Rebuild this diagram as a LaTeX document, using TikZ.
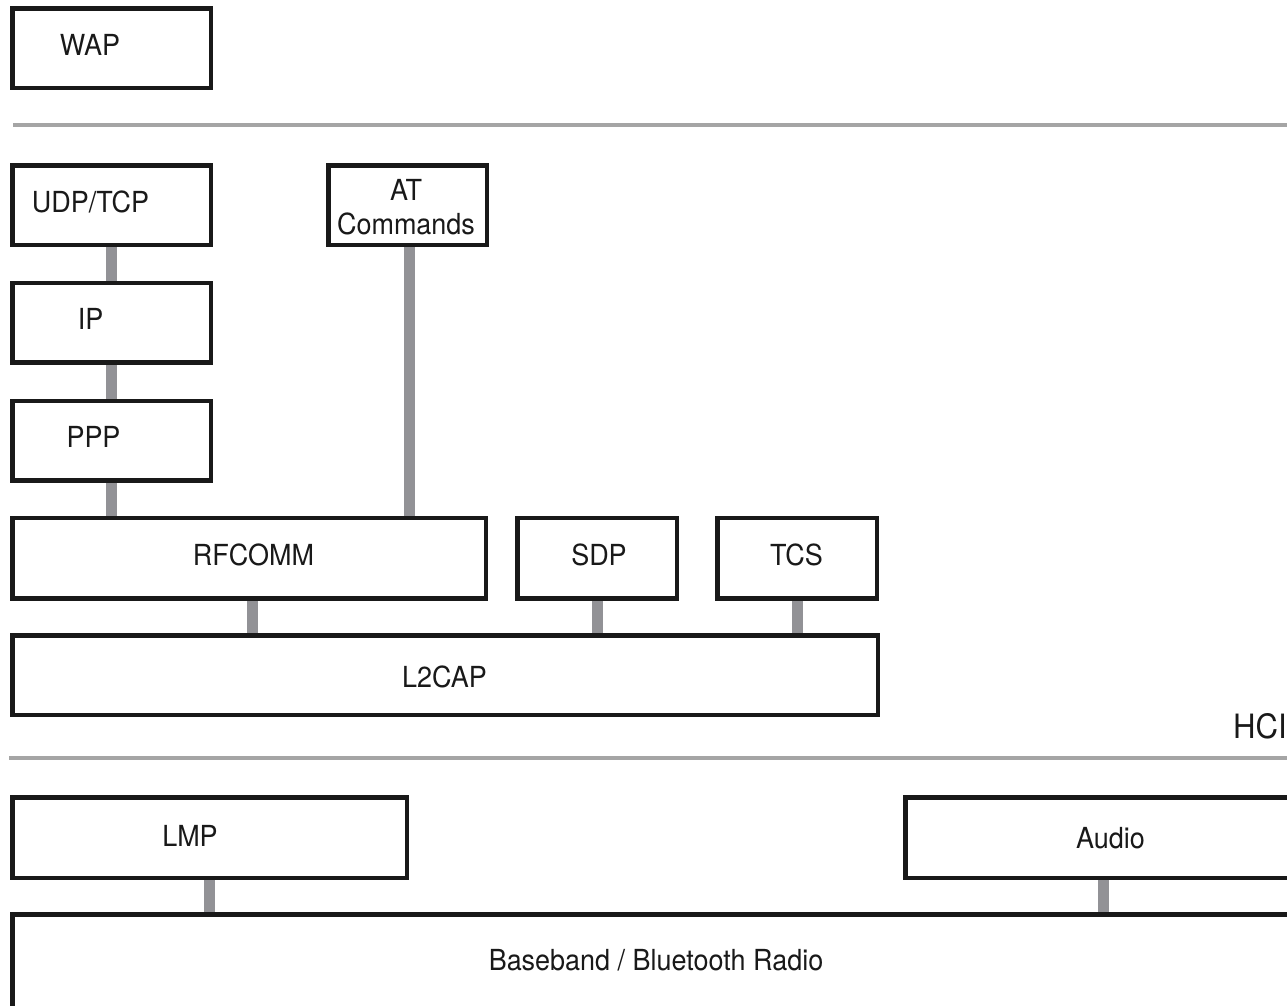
\documentclass[tikz,border=0pt]{standalone}
\usepackage{fontspec}
\setmainfont[FakeStretch=0.93]{TeX Gyre Heros}
\begin{document}
\begin{tikzpicture}[x=1pt,y=-1pt,
  box/.style={draw=black!90, line width=3pt, fill=white, rectangle, inner sep=0pt},
  lbl/.style={inner sep=0pt, font=\fontsize{29}{34}\selectfont, text=black!90, align=center},
  link/.style={draw={rgb,255:red,146;green,146;blue,150}, line width=11pt},
  sep/.style={draw={rgb,255:red,165;green,165;blue,165}, line width=4.5pt}]
\useasboundingbox (0,0) rectangle (1287,1005);
\clip (0,0) rectangle (1287,1005);
% separator lines
\coordinate (s1a) at (13,125); \coordinate (s1b) at (1300,125);
\coordinate (s2a) at (9,758);  \coordinate (s2b) at (1300,758);
\draw[sep] (s1a) -- (s1b);
\draw[sep] (s2a) -- (s2b);
% boxes
\node[box, minimum width=197pt, minimum height=78pt] (wap) at (111.5,48) {};
\node[box, minimum width=197pt, minimum height=78pt] (udp) at (111.5,205) {};
\node[box, minimum width=157pt, minimum height=78pt] (at) at (407.5,205) {};
\node[box, minimum width=197pt, minimum height=78pt] (ip) at (111.5,322.5) {};
\node[box, minimum width=197pt, minimum height=78pt] (ppp) at (111.5,440.5) {};
\node[box, minimum width=472pt, minimum height=79pt] (rfcomm) at (249,558) {};
\node[box, minimum width=158pt, minimum height=79pt] (sdp) at (597,558) {};
\node[box, minimum width=158pt, minimum height=79pt] (tcs) at (797,558) {};
\node[box, minimum width=864pt, minimum height=78pt] (l2cap) at (445,675) {};
\node[box, minimum width=393pt, minimum height=79pt] (lmp) at (209.5,837.5) {};
\node[box, minimum width=420pt, minimum height=79pt] (audio) at (1116,837.5) {};
\node[box, minimum width=1300pt, minimum height=120pt] (bb) at (663,975) {};
% connectors
\draw[link] (udp.south -| 111,0) -- (ip.north -| 111,0);
\draw[link] (ip.south -| 111,0) -- (ppp.north -| 111,0);
\draw[link] (ppp.south -| 111,0) -- (rfcomm.north -| 111,0);
\draw[link] (at.south -| 409,0) -- (rfcomm.north -| 409,0);
\draw[link] (rfcomm.south -| 252,0) -- (l2cap.north -| 252,0);
\draw[link] (sdp.south -| 597,0) -- (l2cap.north -| 597,0);
\draw[link] (tcs.south -| 797,0) -- (l2cap.north -| 797,0);
\draw[link] (lmp.south -| 209,0) -- (bb.north -| 209,0);
\draw[link] (audio.south -| 1103,0) -- (bb.north -| 1103,0);
% redraw box borders over connector ends
\foreach \n in {wap,udp,at,ip,ppp,rfcomm,sdp,tcs,l2cap,lmp,audio,bb}
  \draw[draw=black!90, line width=3pt] (\n.north west) rectangle (\n.south east);
% labels
\node[lbl] (twap) at (90,45) {WAP};
\node[lbl] (tudp) at (90.5,202) {UDP/TCP};
\node[lbl] (tat) at (406,207) {AT\\Commands};
\node[lbl] (tip) at (90.5,319) {IP};
\node[lbl] (tppp) at (93.5,437) {PPP};
\node[lbl] (trf) at (253.5,555) {RFCOMM};
\node[lbl] (tsdp) at (599,555) {SDP};
\node[lbl] (ttcs) at (796.5,555) {TCS};
\node[lbl] (tl2) at (444.5,677) {L2CAP};
\node[lbl, anchor=west, font=\fontsize{33.5}{38}\selectfont] (thci) at (1233,726.5) {HCI};
\node[lbl] (tlmp) at (190,836) {LMP};
\node[lbl] (taud) at (1110.5,838) {Audio};
\node[lbl] (tbb) at (656,960) {Baseband / Bluetooth Radio};
\end{tikzpicture}
\end{document}
